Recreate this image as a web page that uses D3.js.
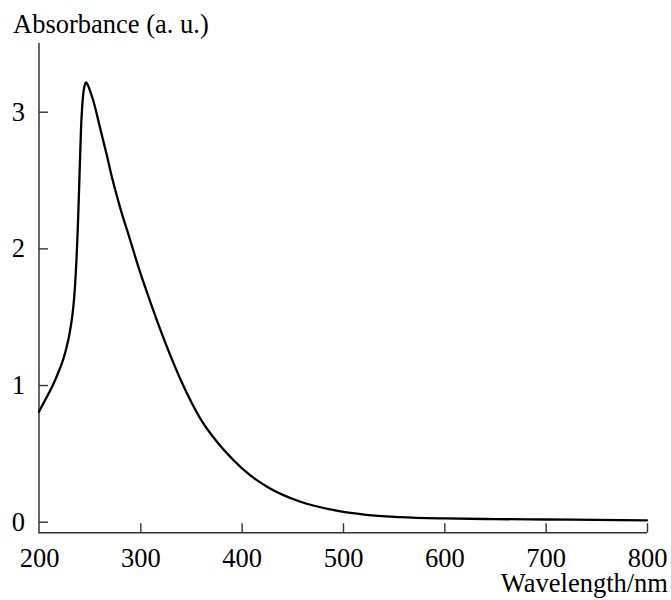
<!DOCTYPE html>
<html>
<head>
<meta charset="utf-8">
<script src="https://cdn.jsdelivr.net/npm/d3@7"></script>
<style>
  html, body { margin: 0; padding: 0; background: #fff; }
  svg { display: block; }
  text { font-family: "Liberation Serif", "DejaVu Serif", serif; fill: #000; }
</style>
</head>
<body>
<svg id="chart" width="671" height="600"></svg>
<script>
const wavelength = [200, 205, 210, 215, 220, 224, 227, 230, 232, 234, 235.5, 237, 238.3, 239.5, 240.6, 241.5, 242.4, 243.5, 245, 246.5, 248.5, 251, 253.6, 260, 267, 272, 280, 290, 300, 310, 320, 330, 340, 350, 360, 375, 392, 408, 425, 458, 490, 523, 556, 600, 650, 700, 750, 800];
const absorbance = [0.805, 0.875, 0.945, 1.02, 1.11, 1.19, 1.27, 1.37, 1.46, 1.58, 1.72, 1.92, 2.15, 2.42, 2.68, 2.88, 3.01, 3.12, 3.19, 3.215, 3.19, 3.14, 3.08, 2.89, 2.68, 2.52, 2.30, 2.06, 1.82, 1.605, 1.40, 1.21, 1.035, 0.88, 0.745, 0.59, 0.45, 0.342, 0.256, 0.146, 0.086, 0.05, 0.034, 0.024, 0.019, 0.016, 0.013, 0.01];
const xTicks = [200, 300, 400, 500, 600, 700, 800];
const yTicks = [0, 1, 2, 3];
const xTitle = "Wavelength/nm";
const yTitle = "Absorbance (a. u.)";

const svg = d3.select("#chart");
const x = d3.scaleLinear().domain([200, 800]).range([39, 647]);
const y = d3.scaleLinear().domain([0, 3]).range([521.7, 111.7]);
const axisY = 532.7;
const fs = 26.5;
const axisColor = "#333";

// x axis
const gx = svg.append("g").attr("transform", `translate(0,${axisY})`)
  .call(d3.axisBottom(x).tickValues(xTicks).tickFormat(d3.format("d"))
    .tickSizeInner(-9.5).tickSizeOuter(0).tickPadding(15.8));
gx.select(".domain").remove();
gx.selectAll(".tick line").attr("stroke", axisColor).attr("stroke-width", 1.4)
  .filter(d => d === 200).remove();
gx.selectAll(".tick text").attr("font-size", fs).attr("font-family", "Liberation Serif");

// y axis
const gy = svg.append("g").attr("transform", `translate(${x(200)},0)`)
  .call(d3.axisLeft(y).tickValues(yTicks).tickFormat(d3.format("d"))
    .tickSizeInner(-9).tickSizeOuter(0).tickPadding(14));
gy.select(".domain").remove();
gy.selectAll(".tick line").attr("stroke", axisColor).attr("stroke-width", 1.4);
gy.selectAll(".tick text").attr("font-size", fs).attr("font-family", "Liberation Serif");

// axis lines
svg.append("line").attr("x1", x(200)).attr("x2", x(200)).attr("y1", 43).attr("y2", axisY + 0.7)
  .attr("stroke", axisColor).attr("stroke-width", 1.5);
svg.append("line").attr("x1", x(200)).attr("x2", x(800)).attr("y1", axisY).attr("y2", axisY)
  .attr("stroke", axisColor).attr("stroke-width", 1.5);

// titles
svg.append("text").attr("x", 13).attr("y", 33).attr("font-size", fs).text(yTitle);
svg.append("text").attr("x", 668).attr("y", 592).attr("text-anchor", "end").attr("font-size", fs).text(xTitle);

// curve
const pts = wavelength.map((w, i) => [w, absorbance[i]]);
svg.append("path").datum(pts)
  .attr("fill", "none").attr("stroke", "#000").attr("stroke-width", 2.3)
  .attr("stroke-linejoin", "round").attr("stroke-linecap", "round")
  .attr("d", d3.line().x(d => x(d[0])).y(d => y(d[1])).curve(d3.curveMonotoneX));
</script>
</body>
</html>
